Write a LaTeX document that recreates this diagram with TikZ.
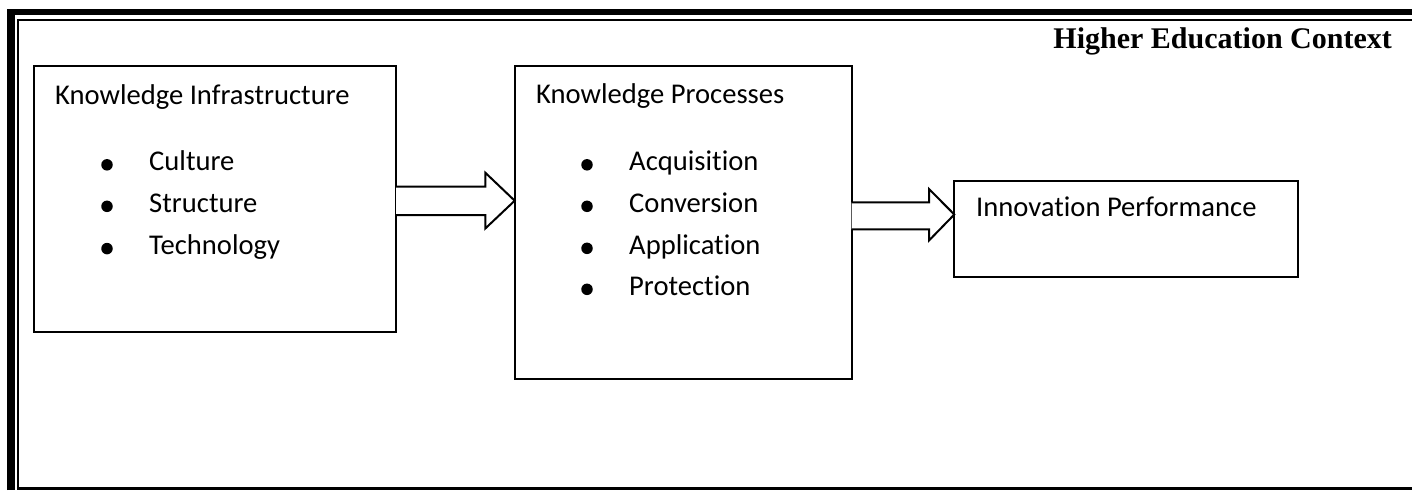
\documentclass[tikz,border=0pt]{standalone}
\usepackage{fontspec}
\setmainfont{Carlito}[Ligatures={NoCommon}]
\newfontfamily\hdrfont{Liberation Serif}
\begin{document}
\begin{tikzpicture}[x=1pt,y=-1pt,
  box/.style={draw=black,line width=2pt,inner sep=0pt,outer sep=0pt,anchor=north west},
  bigarrow/.style={draw=black,line width=2pt,line join=miter,fill=white},
  lbl/.style={anchor=base west,inner sep=0pt,font=\fontsize{28.6}{34}\selectfont},
  dot/.style={circle,fill=black,inner sep=0pt,minimum size=11.5pt},
  hdr/.style={anchor=base east,inner sep=0pt,font=\hdrfont\bfseries\fontsize{30}{36}\selectfont}]
\useasboundingbox (0,0) rectangle (1412,490);
% page border
\draw[line width=8pt] (11,490) -- (11,12);
\draw[line width=6pt] (7,12) -- (1412,12);
\draw[line width=2pt] (18,488.5) -- (18,19.5) -- (1412,19.5);
\draw[line width=3pt] (17,488.5) -- (1412,488.5);
\node[hdr] (ctx) at (1392,48) {Higher Education Context};
% boxes
\node[box,minimum width=362pt,minimum height=265.7pt] (b1) at (34,66) {};
\node[box,minimum width=337pt,minimum height=313pt] (b2) at (514.7,66) {};
\node[box,minimum width=344pt,minimum height=95.7pt] (b3) at (954.3,181) {};
% box 1 text
\node[lbl] (t1) at (55,104.3) {Knowledge Infrastructure};
\node[dot] (d11) at (107,164.8) {};
\node[lbl] (i11) at (149,170.5) {Culture};
\node[dot] (d12) at (107,206.3) {};
\node[lbl] (i12) at (149,212) {Structure};
\node[dot] (d13) at (107,248.6) {};
\node[lbl] (i13) at (149,254.3) {Technology};
% box 2 text
\node[lbl] (t2) at (536,103.3) {Knowledge Processes};
\node[dot] (d21) at (587,164.8) {};
\node[lbl] (i21) at (629,170.5) {Acquisition};
\node[dot] (d22) at (587,206.3) {};
\node[lbl] (i22) at (629,212) {Conversion};
\node[dot] (d23) at (587,248.3) {};
\node[lbl] (i23) at (629,254) {Application};
\node[dot] (d24) at (587,289.3) {};
\node[lbl] (i24) at (629,295) {Protection};
% box 3 text
\node[lbl] (t3) at (976,216.7) {Innovation Performance};
% block arrows
\draw[bigarrow] (b1.north east |- 0,186.7) -- (485.3,186.7) -- (485.3,172.7)
  -- (b2.north west |- 0,200.7) -- (485.3,228.5) -- (485.3,215) -- (b1.north east |- 0,215);
\draw[bigarrow] (b2.north east |- 0,202.3) -- (929,202.3) -- (929,189)
  -- (b3.north west |- 0,214.5) -- (929,240.5) -- (929,229.3) -- (b2.north east |- 0,229.3);
\end{tikzpicture}
\end{document}
